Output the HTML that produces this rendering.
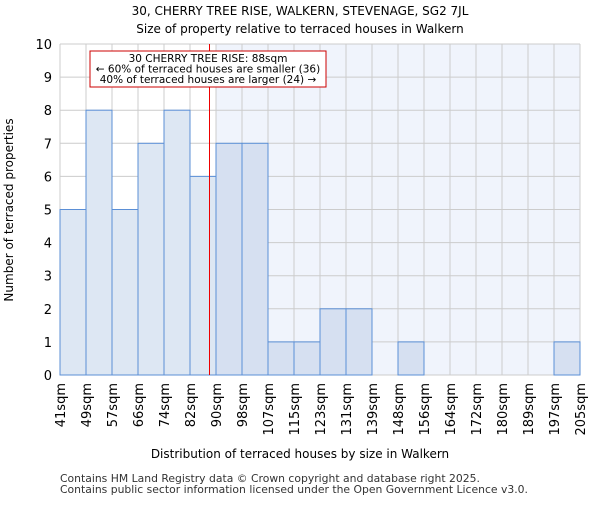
<!DOCTYPE html>
<html><head><meta charset="utf-8"><style>
body{margin:0;background:#fff;font-family:"Liberation Sans","DejaVu Sans",sans-serif}
</style></head><body>
<svg width="600" height="500" xmlns="http://www.w3.org/2000/svg" font-family="DejaVu Sans, Liberation Sans, sans-serif">
<text x="300" y="15" text-anchor="middle" font-size="12">30, CHERRY TREE RISE, WALKERN, STEVENAGE, SG2 7JL</text>
<text x="300" y="33" text-anchor="middle" font-size="12">Size of property relative to terraced houses in Walkern</text>
<g id="plot"></g>
<text x="300" y="458" text-anchor="middle" font-size="12">Distribution of terraced houses by size in Walkern</text>
<text transform="translate(13,210) rotate(-90)" text-anchor="middle" font-size="12">Number of terraced properties</text>
<text x="60" y="482" font-size="10.8" fill="#333">Contains HM Land Registry data © Crown copyright and database right 2025.</text>
<text x="60" y="493" font-size="10.8" fill="#333">Contains public sector information licensed under the Open Government Licence v3.0.</text>
</svg>
<script>
const categories=["41sqm","49sqm","57sqm","66sqm","74sqm","82sqm","90sqm","98sqm","107sqm","115sqm","123sqm","131sqm","139sqm","148sqm","156sqm","164sqm","172sqm","180sqm","189sqm","197sqm","205sqm"];
const counts=[5,8,5,7,8,6,7,7,1,1,2,2,0,1,0,0,0,0,0,1];
const yTicks=[0,1,2,3,4,5,6,7,8,9,10];
const propertyBin=5.75;
const highlightFrom=6;
const NS="http://www.w3.org/2000/svg";
const L=60,R=580,T=44,B=375,n=counts.length,bw=(R-L)/n;
const x=i=>L+i*bw, y=v=>B-(B-T)*v/10;
const g=document.getElementById('plot');
function mk(t,a){const e=document.createElementNS(NS,t);for(const k in a)e.setAttribute(k,a[k]);g.appendChild(e);return e;}
let e=mk('rect',{x:x(highlightFrom),y:T,width:R-x(highlightFrom),height:B-T,fill:'#f0f4fc'});


for(const v of yTicks){e=mk('line',{x1:L,x2:R,y1:y(v),y2:y(v),stroke:'#ccc'});


e=mk('text',{x:L-8,y:y(v)+5,'text-anchor':'end','font-size':13});e.textContent=v;

}
for(let i=0;i<=n;i++){e=mk('line',{x1:x(i),x2:x(i),y1:T,y2:B,stroke:'#ccc'});

}
counts.forEach((c,i)=>{if(!c)return;e=mk('rect',{x:x(i),y:y(c),width:bw,height:B-y(c),fill:i<highlightFrom?'#dde7f3':'#d6e0f1',stroke:'#5b8fd6','stroke-width':1});

});
categories.forEach((c,i)=>{e=mk('text',{transform:`translate(${x(i)+5},${B+8}) rotate(-90)`,'text-anchor':'end','font-size':13});e.textContent=c;

});
e=mk('line',{x1:x(propertyBin),x2:x(propertyBin),y1:T,y2:B,stroke:'#ee0000','stroke-width':1,'shape-rendering':'crispEdges'});


e=mk('rect',{x:90,y:51,width:236,height:36,fill:'#fff',stroke:'#cc0000'});


["30 CHERRY TREE RISE: 88sqm","← 60% of terraced houses are smaller (36)","40% of terraced houses are larger (24) →"].forEach((t,i)=>{e=mk('text',{x:208,y:62+i*10.5,'text-anchor':'middle','font-size':10.5});e.textContent=t;

});
</script>
</body></html>
